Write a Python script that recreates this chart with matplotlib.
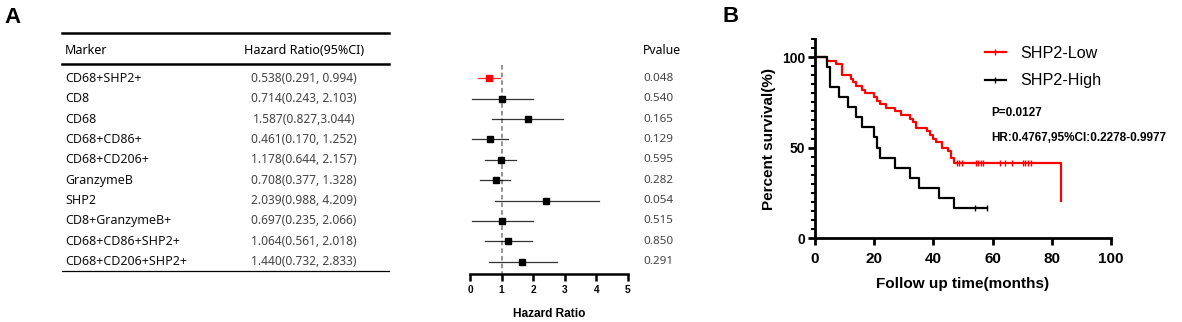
import matplotlib
matplotlib.use("Agg")
import matplotlib.pyplot as plt
from matplotlib.lines import Line2D
import numpy as np

# ---- panel A data ----
markers = ["CD68+SHP2+", "CD8", "CD68", "CD68+CD86+", "CD68+CD206+",
           "GranzymeB", "SHP2", "CD8+GranzymeB+", "CD68+CD86+SHP2+", "CD68+CD206+SHP2+"]
hr_text = ["0.538(0.291, 0.994)", "0.714(0.243, 2.103)", "1.587(0.827,3.044)",
           "0.461(0.170, 1.252)", "1.178(0.644, 2.157)", "0.708(0.377, 1.328)",
           "2.039(0.988, 4.209)", "0.697(0.235, 2.066)", "1.064(0.561, 2.018)",
           "1.440(0.732, 2.833)"]
pvals = ["0.048", "0.540", "0.165", "0.129", "0.595", "0.282", "0.054", "0.515", "0.850", "0.291"]
# positions as drawn in the forest plot
hr_pt = [0.60, 1.02, 1.82, 0.63, 0.97, 0.81, 2.42, 1.00, 1.21, 1.66]
ci_lo = [0.26, 0.05, 0.70, 0.07, 0.47, 0.32, 0.79, 0.05, 0.49, 0.61]
ci_hi = [0.95, 2.00, 2.95, 1.19, 1.47, 1.28, 4.07, 1.98, 1.97, 2.74]

# ---- panel B data (Kaplan-Meier) ----
low_t = [0, 4, 7, 9, 12, 13, 14, 16, 17, 20, 21, 22, 24, 27, 29, 32, 33, 34, 38, 39, 40, 41, 43, 45, 46, 47, 83]
low_s = [100, 98, 96, 90, 88, 86, 84, 82, 80, 78, 76, 74, 72, 70, 68, 66, 64, 61, 59, 57, 55, 53, 50, 48, 44, 41.2, 20.6]
low_end = 83
low_cens = [48, 48.8, 49.7, 54.4, 55.2, 56, 56.9, 62.5, 64.3, 66.4, 70.2, 71.1, 72, 72.9]
high_t = [0, 4, 5, 8, 11, 14, 16, 20, 21, 22, 27, 32, 35, 42, 47]
high_s = [100, 94.4, 83.3, 77.8, 72.2, 66.7, 61.1, 55.6, 50, 44.4, 38.9, 33.3, 27.8, 22.2, 16.7]
high_end = 58
high_cens = [54, 58]

W, H = 1182, 322
fig = plt.figure(figsize=(W / 100, H / 100), dpi=100)

# overlay axes in pixel units for table text
ax_t = fig.add_axes([0, 0, 1, 1])
ax_t.set_xlim(0, W)
ax_t.set_ylim(H, 0)
ax_t.axis("off")

tfont = "Noto Sans"
row_top, row_bot = -2.22, 9.6
top_px, bot_px = 33, 274


def row_px(i):
    return top_px + (i - row_top) / (row_bot - row_top) * (bot_px - top_px)


ax_t.text(4, 17, "A", fontsize=16, fontweight="bold", family="Liberation Sans", va="center")
ax_t.plot([62, 389], [33, 33], color="black", lw=1.8)
ax_t.plot([62, 389], [64, 64], color="black", lw=1.8)
ax_t.plot([62, 389], [271, 271], color="black", lw=0.9)
ax_t.text(65, 50, "Marker", fontsize=9, family=tfont, va="center")
ax_t.text(304, 50, "Hazard Ratio(95%CI)", fontsize=9, family=tfont, va="center", ha="center")
ax_t.text(643, 50, "Pvalue", fontsize=8.8, family=tfont, fontweight="bold", va="center")
for i in range(len(markers)):
    y = row_px(i)
    ax_t.text(65, y, markers[i], fontsize=9, family=tfont, color="#111111", va="center")
    ax_t.text(304, y, hr_text[i], fontsize=8.6, family=tfont, color="#444444", va="center", ha="center")
    ax_t.text(643, y, pvals[i], fontsize=8.4, family=tfont, color="#444444", va="center")

# forest plot
ax_f = fig.add_axes([470 / W, (H - bot_px) / H, 158 / W, (bot_px - top_px) / H])
ax_f.patch.set_alpha(0)
rows = np.arange(len(markers))
for i in rows:
    c = "red" if i == 0 else "black"
    ax_f.plot([ci_lo[i], ci_hi[i]], [i, i], color=c, lw=0.9, alpha=0.8)
    ax_f.plot(hr_pt[i], i, marker="s", ms=4.8, color=c, mec=c)
ax_f.plot([1, 1], [-0.65, row_bot], color="#777777", lw=1.1, ls=(0, (3, 2)), zorder=0)
ax_f.set_xlim(0, 5)
ax_f.set_ylim(row_bot, row_top)
for s in ["left", "right", "top"]:
    ax_f.spines[s].set_visible(False)
ax_f.spines["bottom"].set_linewidth(1.8)
ax_f.set_yticks([])
ax_f.set_xticks(range(6))
ax_f.tick_params(axis="x", length=5, width=1.8, pad=3, labelsize=7.3)
for lab in ax_f.get_xticklabels():
    lab.set_fontweight("bold")
    lab.set_family("Liberation Sans")
ax_f.set_xlabel("Hazard Ratio", fontsize=8.6, fontweight="bold", family="Liberation Sans", labelpad=9)

# ---- panel B ----
ax_t.text(722, 16, "B", fontsize=16, fontweight="bold", family="Liberation Sans", va="center")
ax_k = fig.add_axes([815 / W, (H - 238) / H, 296 / W, (238 - 39) / H])
ax_k.step(low_t + [low_end], low_s + [low_s[-1]], where="post", color="red", lw=1.6)
ax_k.step(high_t + [high_end], high_s + [high_s[-1]], where="post", color="black", lw=1.6)
ax_k.plot(low_cens, [low_s[-2]] * len(low_cens), ls="none", marker="|", ms=4, mew=1, color="red")
ax_k.plot(high_cens, [high_s[-1]] * len(high_cens), ls="none", marker="|", ms=4, mew=1, color="black")
ax_k.set_xlim(0, 100)
ax_k.set_ylim(0, 110)
ax_k.spines["top"].set_visible(False)
ax_k.spines["right"].set_visible(False)
ax_k.spines["left"].set_linewidth(2)
ax_k.spines["bottom"].set_linewidth(2)
ax_k.set_xticks(range(0, 101, 20))
ax_k.set_yticks([0, 50, 100])
ax_k.set_yticks(range(0, 111, 5), minor=True)
ax_k.tick_params(axis="both", which="major", length=5, width=2, labelsize=10, pad=2)
ax_k.tick_params(axis="x", which="major", labelsize=11, pad=5)
ax_k.tick_params(axis="y", which="minor", length=3, width=1.5)
for lab in ax_k.get_xticklabels() + ax_k.get_yticklabels():
    lab.set_fontweight("bold")
    lab.set_family("Liberation Sans")
ax_k.set_xlabel("Follow up time(months)", fontsize=11, fontweight="bold", family="Liberation Sans", labelpad=8)
ax_k.set_ylabel("Percent survival(%)", fontsize=11, fontweight="bold", family="Liberation Sans", labelpad=4)
handles = [Line2D([], [], color="red", lw=1.6, marker="|", ms=4),
           Line2D([], [], color="black", lw=1.6, marker="|", ms=4)]
ax_k.legend(handles, ["SHP2-Low", "SHP2-High"], loc="upper left", bbox_to_anchor=(0.525, 1.04),
            frameon=False, prop={"family": "Liberation Sans", "size": 11.6}, handlelength=1.3,
            handletextpad=0.9, labelspacing=0.8)
ax_k.text(0.597, 0.628, "P=0.0127", transform=ax_k.transAxes, fontsize=8.5, fontweight="bold",
          family="Liberation Sans", va="center")
ax_k.text(0.597, 0.5025, "HR:0.4767,95%CI:0.2278-0.9977", transform=ax_k.transAxes, fontsize=8.5,
          fontweight="bold", family="Liberation Sans", va="center")

fig.savefig("out.png", dpi=100)
